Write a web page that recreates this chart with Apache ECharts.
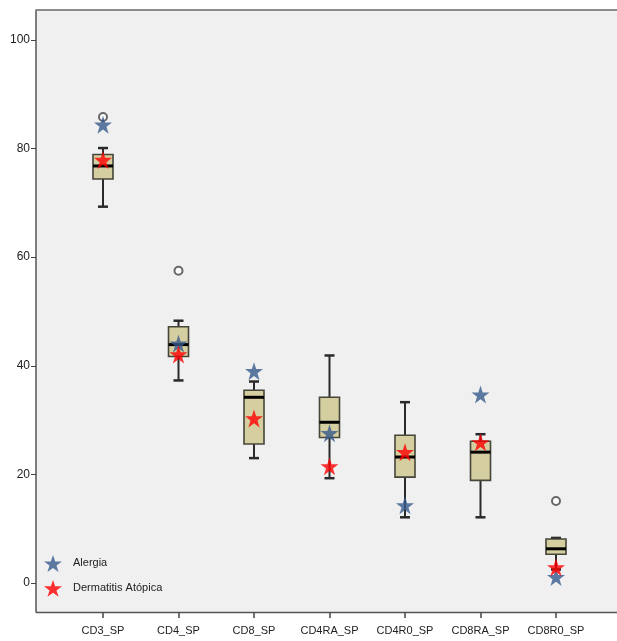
<!DOCTYPE html>
<html>
<head>
<meta charset="utf-8">
<script src="https://cdn.jsdelivr.net/npm/echarts@6/dist/echarts.min.js"></script>
<style>
html,body{margin:0;padding:0;background:#fff;}
#chart{width:617px;height:641px;}
</style>
</head>
<body>
<div id="chart"></div>
<script>
var categories = ['CD3_SP','CD4_SP','CD8_SP','CD4RA_SP','CD4R0_SP','CD8RA_SP','CD8R0_SP'];
// [low whisker, Q1, median, Q3, high whisker]
var boxLow    = [69.3, 37.3, 23.0, 19.3, 12.1, 12.1, 2.5];
var boxQ1     = [74.4, 41.7, 25.6, 26.8, 19.5, 18.9, 5.3];
var boxMedian = [76.8, 43.9, 34.2, 29.6, 23.2, 24.1, 6.3];
var boxQ3     = [78.9, 47.2, 35.5, 34.2, 27.2, 26.1, 8.1];
var boxHigh   = [80.1, 48.3, 37.1, 41.9, 33.3, 27.4, 8.3];
var outlierCategory = ['CD3_SP','CD4_SP','CD8R0_SP'];
var outlierValue    = [85.8, 57.5, 15.1];
var alergia    = [84.4, 44.1, 39.0, 27.6, 14.3, 34.7, 1.1];
var dermatitis = [77.9, 42.1, 30.3, 21.5, 24.1, 25.9, 2.9];
var yTicks = [0, 20, 40, 60, 80, 100];

var starPath = 'path://M50,0 L61.8,35.1 L98.9,35.1 L68.9,56.9 L80.3,91.9 L50,70.2 L19.7,91.9 L31.1,56.9 L1.1,35.1 L38.2,35.1 Z';

var boxData = categories.map(function(c, i){
  return [i, boxLow[i], boxQ1[i], boxMedian[i], boxQ3[i], boxHigh[i]];
});
var outlierData = outlierCategory.map(function(c, i){
  return [categories.indexOf(c), outlierValue[i]];
});
var alergiaData = alergia.map(function(v, i){ return [i, v]; });
var dermData = dermatitis.map(function(v, i){ return [i, v]; });

var chart = echarts.init(document.getElementById('chart'));
var option = {
  backgroundColor: '#ffffff',
  animation: false,
  grid: {left: 65.25, right: 23.25, top: 10, bottom: 29, show: false},
  graphic: [
    {type: 'rect', z: -10, silent: true, shape: {x: 36, y: 10, width: 581, height: 602}, style: {fill: '#f0f0f0'}},
    {type: 'line', z: 10, silent: true, shape: {x1: 36, y1: 10, x2: 617, y2: 10}, style: {stroke: '#8c8c8c', lineWidth: 2}},
    {type: 'line', z: 10, silent: true, shape: {x1: 36, y1: 612.5, x2: 617, y2: 612.5}, style: {stroke: '#555555', lineWidth: 1.5}}
  ],
  legend: {
    orient: 'vertical',
    left: 39,
    top: 550,
    itemWidth: 18,
    itemHeight: 18,
    itemGap: 8,
    icon: starPath,
    textStyle: {fontFamily: "'Liberation Sans', Arial, sans-serif", fontSize: 11, color: '#222', padding: [0, 0, 0, 6]},
    data: ['Alergia', 'Dermatitis Atópica']
  },
  xAxis: {
    type: 'category',
    data: categories,
    position: 'bottom',
    axisLine: {show: false, onZero: false},
    axisTick: {show: true, alignWithLabel: true, length: 6, lineStyle: {color: '#444', width: 1.5}},
    axisLabel: {interval: 0, fontFamily: "'Liberation Sans', Arial, sans-serif", fontSize: 11, color: '#222', margin: 13},
    splitLine: {show: false}
  },
  yAxis: {
    type: 'value',
    min: -5.34,
    max: 105.52,
    offset: 29.25,
    axisLine: {show: true, lineStyle: {color: '#555', width: 1.5}},
    axisTick: {show: true, length: 5, lineStyle: {color: '#444', width: 1}, customValues: yTicks},
    axisLabel: {fontFamily: "'Liberation Sans', Arial, sans-serif", fontSize: 12, color: '#222', margin: 6, customValues: yTicks},
    splitLine: {show: false}
  },
  series: [
    {
      type: 'custom',
      name: 'box',
      z: 2,
      data: boxData,
      encode: {x: 0, y: [1, 2, 3, 4, 5]},
      renderItem: function(params, api){
        var idx = api.value(0);
        var lo = api.coord([idx, api.value(1)]);
        var q1 = api.coord([idx, api.value(2)]);
        var md = api.coord([idx, api.value(3)]);
        var q3 = api.coord([idx, api.value(4)]);
        var hi = api.coord([idx, api.value(5)]);
        var cx = lo[0];
        var bw = 20, cw = 10;
        var wStyle = {stroke: '#2a2a2a', lineWidth: 2};
        return {
          type: 'group',
          children: [
            {type: 'line', shape: {x1: cx, y1: hi[1], x2: cx, y2: q3[1]}, style: wStyle},
            {type: 'line', shape: {x1: cx, y1: q1[1], x2: cx, y2: lo[1]}, style: wStyle},
            {type: 'line', shape: {x1: cx - cw / 2, y1: hi[1], x2: cx + cw / 2, y2: hi[1]}, style: {stroke: '#2a2a2a', lineWidth: 2.5}},
            {type: 'line', shape: {x1: cx - cw / 2, y1: lo[1], x2: cx + cw / 2, y2: lo[1]}, style: {stroke: '#2a2a2a', lineWidth: 2.5}},
            {type: 'rect', shape: {x: cx - bw / 2, y: q3[1], width: bw, height: q1[1] - q3[1]}, style: {fill: '#d5cea0', stroke: '#45453a', lineWidth: 1.6}},
            {type: 'line', shape: {x1: cx - bw / 2, y1: md[1], x2: cx + bw / 2, y2: md[1]}, style: {stroke: '#000', lineWidth: 3}}
          ]
        };
      }
    },
    {
      type: 'scatter',
      name: 'outliers',
      z: 3,
      symbol: 'emptyCircle',
      symbolSize: 8,
      itemStyle: {color: '#444', borderColor: '#444', borderWidth: 1.5},
      data: outlierData
    },
    {
      type: 'scatter',
      name: 'Alergia',
      z: 4,
      symbol: starPath,
      symbolSize: 18,
      itemStyle: {color: '#365a8c'},
      data: alergiaData
    },
    {
      type: 'scatter',
      name: 'Dermatitis Atópica',
      z: 5,
      symbol: starPath,
      symbolSize: 18,
      itemStyle: {color: '#ff0000'},
      data: dermData
    }
  ]
};
chart.setOption(option);
</script>
</body>
</html>
